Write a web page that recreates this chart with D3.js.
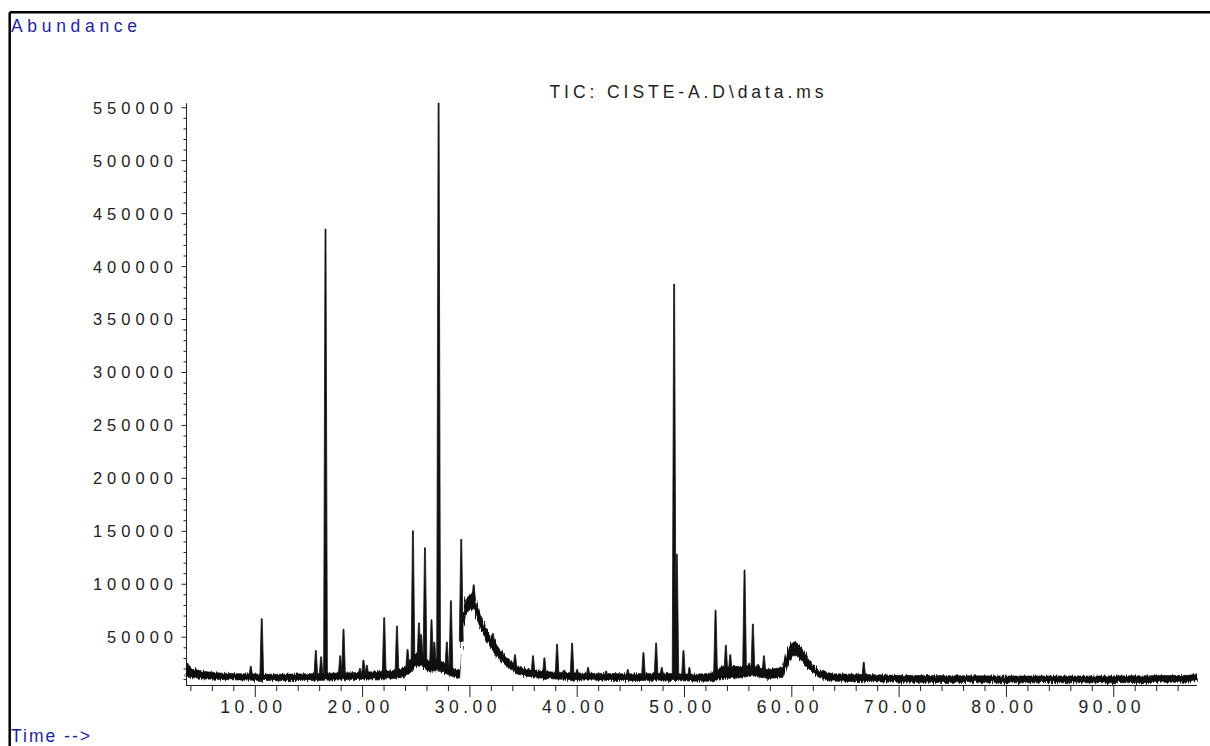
<!DOCTYPE html>
<html>
<head>
<meta charset="utf-8">
<script src="https://cdn.jsdelivr.net/npm/d3@7"></script>
<style>
  html, body { margin: 0; padding: 0; background: #fff; }
  svg { display: block; font-family: "Liberation Sans", Arial, sans-serif; }
</style>
</head>
<body>
<svg id="chart" width="1210" height="746"></svg>
<script>
// Time axis (minutes)
const timeTicks = [10, 20, 30, 40, 50, 60, 70, 80, 90];
const timeLabels = ["10.00", "20.00", "30.00", "40.00", "50.00", "60.00", "70.00", "80.00", "90.00"];
const timeRange = [3.59, 97.75];

// Abundance axis
const abundanceTicks = [50000, 100000, 150000, 200000, 250000, 300000, 350000, 400000, 450000, 500000, 550000];
const abundanceLabels = ["50000", "100000", "150000", "200000", "250000", "300000", "350000", "400000", "450000", "500000", "550000"];
const abundanceRange = [4400, 554000];

// Noise band of the total ion current: [time, low, high]
const noiseBand = [
  [3.59, 12000, 26000], [3.9, 11500, 21000], [4.5, 11000, 19000], [5.5, 10000, 17000],
  [7.0, 9500, 15500], [9.0, 9000, 15000], [12.0, 8500, 14500], [15.0, 8500, 15000],
  [17.0, 9000, 15500], [19.0, 9500, 16000], [21.0, 10000, 17000], [23.0, 10500, 18000],
  [24.0, 12000, 21000], [24.5, 16000, 28000], [25.0, 22000, 34000], [25.6, 22000, 34000],
  [26.2, 17000, 27000], [27.0, 18000, 29000], [27.6, 16000, 26000], [28.6, 11500, 20000],
  [29.1, 10500, 18000], [29.3, 50000, 68000], [29.65, 72000, 86000], [30.0, 75000, 89000],
  [30.4, 76000, 91000], [30.8, 64000, 78000], [31.2, 54000, 66000], [31.6, 46000, 57000],
  [32.3, 35000, 46000], [32.9, 27000, 37000], [33.5, 22000, 30500], [34.5, 14500, 21500],
  [36.0, 11500, 18000], [38.0, 10000, 16500], [41.0, 9000, 15500], [45.0, 8500, 15000],
  [48.0, 9000, 15500], [51.0, 8000, 14500], [52.5, 8000, 15500], [53.5, 10500, 21000],
  [55.0, 11000, 22000], [56.5, 13000, 23000], [57.7, 10500, 19000], [59.2, 11500, 21000],
  [59.65, 24000, 38000], [60.1, 32000, 45000], [60.6, 32000, 43500], [61.05, 26000, 38000],
  [61.5, 21000, 31500], [62.0, 16000, 24000], [62.6, 11500, 18000], [63.9, 8000, 15000],
  [70.0, 7000, 13500], [80.0, 6500, 13000], [90.0, 6500, 13000], [97.0, 7000, 13500],
  [97.75, 8500, 15000]
];

// Resolved peaks: [retention time, apex abundance]
const peaks = [
  [9.63, 22000], [10.65, 67000], [15.69, 37000], [16.18, 31000], [16.59, 435000],
  [17.96, 32000], [18.27, 57000], [19.80, 20000], [20.13, 28000], [20.44, 23000],
  [22.06, 68000], [23.25, 60000], [24.24, 38000], [24.74, 150000], [25.30, 63000],
  [25.50, 52000], [25.86, 134000], [26.47, 66000], [26.73, 45000], [27.13, 554000],
  [27.90, 45000], [28.28, 84000], [29.24, 142000], [30.40, 99000], [31.08, 69000],
  [31.50, 58000], [32.20, 53000], [34.25, 33000], [35.93, 32000], [36.99, 30000],
  [38.17, 43000], [38.85, 18500], [39.57, 44000], [40.04, 19000], [41.06, 21000],
  [42.74, 17500], [44.76, 19000], [46.22, 35000], [47.40, 44000], [47.93, 21000],
  [49.08, 383000], [49.33, 128000], [49.95, 37000], [50.50, 21000], [52.94, 75000],
  [53.90, 42000], [54.31, 33000], [55.64, 113000], [56.08, 25000], [56.42, 62000],
  [56.90, 24000], [57.45, 32000], [66.75, 26000]
];

const svg = d3.select("#chart");

// Fine jitter that gives the detector noise band its ragged edge
const defs = svg.append("defs");
const rough = defs.append("filter").attr("id", "rough")
  .attr("x", "-2%").attr("y", "-20%").attr("width", "104%").attr("height", "140%");
rough.append("feTurbulence").attr("type", "fractalNoise")
  .attr("baseFrequency", "0.9 0.04").attr("numOctaves", 2).attr("seed", 3)
  .attr("result", "grain");
rough.append("feDisplacementMap").attr("in", "SourceGraphic").attr("in2", "grain")
  .attr("scale", 6).attr("xChannelSelector", "R").attr("yChannelSelector", "G");

const x = d3.scaleLinear().domain(timeRange).range([186, 1196.4]);
const y = d3.scaleLinear().domain(abundanceRange).range([685, 103]);

// Outer frame (left and top edges)
svg.append("line").attr("x1", 9.7).attr("y1", 12.2).attr("x2", 1210).attr("y2", 12.2)
  .attr("stroke", "#000").attr("stroke-width", 2.5);
svg.append("line").attr("x1", 9.7).attr("y1", 12.2).attr("x2", 9.7).attr("y2", 746)
  .attr("stroke", "#000").attr("stroke-width", 2.5);

// Corner captions
svg.append("text").attr("x", 11).attr("y", 32.3)
  .attr("font-size", 17.5).attr("fill", "#1f1f9e")
  .attr("textLength", 126).attr("lengthAdjust", "spacing")
  .text("Abundance");
svg.append("text").attr("x", 11).attr("y", 742)
  .attr("font-size", 17.5).attr("fill", "#1f1f9e")
  .attr("textLength", 79).attr("lengthAdjust", "spacing")
  .text("Time -->");

// Title
svg.append("text").attr("x", 549.5).attr("y", 98.3)
  .attr("font-size", 17.5).attr("fill", "#222")
  .attr("textLength", 274).attr("lengthAdjust", "spacing")
  .text("TIC: CISTE-A.D\\data.ms");

// Abundance axis: minor ticks every 10000, labelled majors every 50000
const minorAbund = d3.range(10000, 550001, 10000).filter(v => v % 50000 !== 0);
svg.append("g").attr("transform", "translate(186,0)")
  .call(d3.axisLeft(y).tickValues(minorAbund).tickSize(2.5).tickSizeOuter(0).tickFormat(""))
  .call(g => g.selectAll("line,path").attr("stroke", "#222"));
const yAxis = svg.append("g").attr("transform", "translate(186,0)")
  .call(d3.axisLeft(y).tickValues(abundanceTicks).tickSize(4.5).tickSizeOuter(0)
    .tickFormat((d, i) => abundanceLabels[i]));
yAxis.selectAll("line,path").attr("stroke", "#222");
yAxis.attr("font-family", null).attr("font-size", null);
yAxis.selectAll("text")
  .attr("x", -8).attr("dy", "0.36em")
  .attr("font-size", 16.5).attr("fill", "#222")
  .style("letter-spacing", "5px");

// Time axis: minor ticks every 2 min, labelled majors every 10 min
const minorTimes = d3.range(4, 97, 2).filter(t => t % 10 !== 0);
svg.append("g").attr("transform", "translate(0,685)")
  .call(d3.axisBottom(x).tickValues(minorTimes).tickSize(6).tickSizeOuter(0).tickFormat(""))
  .call(g => g.selectAll("line,path").attr("stroke", "#222"));
const xAxis = svg.append("g").attr("transform", "translate(0,685)")
  .call(d3.axisBottom(x).tickValues(timeTicks).tickSize(12).tickSizeOuter(0)
    .tickFormat((d, i) => timeLabels[i]));
xAxis.selectAll("line,path").attr("stroke", "#222");
xAxis.attr("font-family", null).attr("font-size", null);
xAxis.selectAll("text")
  .attr("y", 28).attr("dy", 0).attr("dx", -2)
  .attr("font-size", 17.5).attr("fill", "#222")
  .style("letter-spacing", "4.5px");

// Trace: noise band
const trace = svg.append("g");
trace.append("path")
  .datum(noiseBand)
  .attr("d", d3.area()
    .x(d => x(d[0]))
    .y0(d => y(d[1]))
    .y1(d => y(d[2])))
  .attr("fill", "#111")
  .attr("stroke", "#111")
  .attr("stroke-width", 0.6)
  .attr("stroke-linejoin", "round")
  .attr("filter", "url(#rough)");

// Trace: peaks rising from the middle of the band
const bandMid = d3.scaleLinear()
  .domain(noiseBand.map(d => d[0]))
  .range(noiseBand.map(d => (d[1] + d[2]) / 2));
const footHalf = 1.9, apexHalf = 0.45;
trace.selectAll("path.peak")
  .data(peaks)
  .join("path")
  .attr("class", "peak")
  .attr("d", d => {
    const cx = x(d[0]);
    const foot = y(bandMid(d[0]));
    const top = y(d[1]);
    return d3.line()([
      [cx - footHalf, foot], [cx - apexHalf, top],
      [cx + apexHalf, top], [cx + footHalf, foot]
    ]);
  })
  .attr("fill", "#111")
  .attr("stroke", "#111")
  .attr("stroke-width", 0.8)
  .attr("stroke-linejoin", "round");
</script>
</body>
</html>
